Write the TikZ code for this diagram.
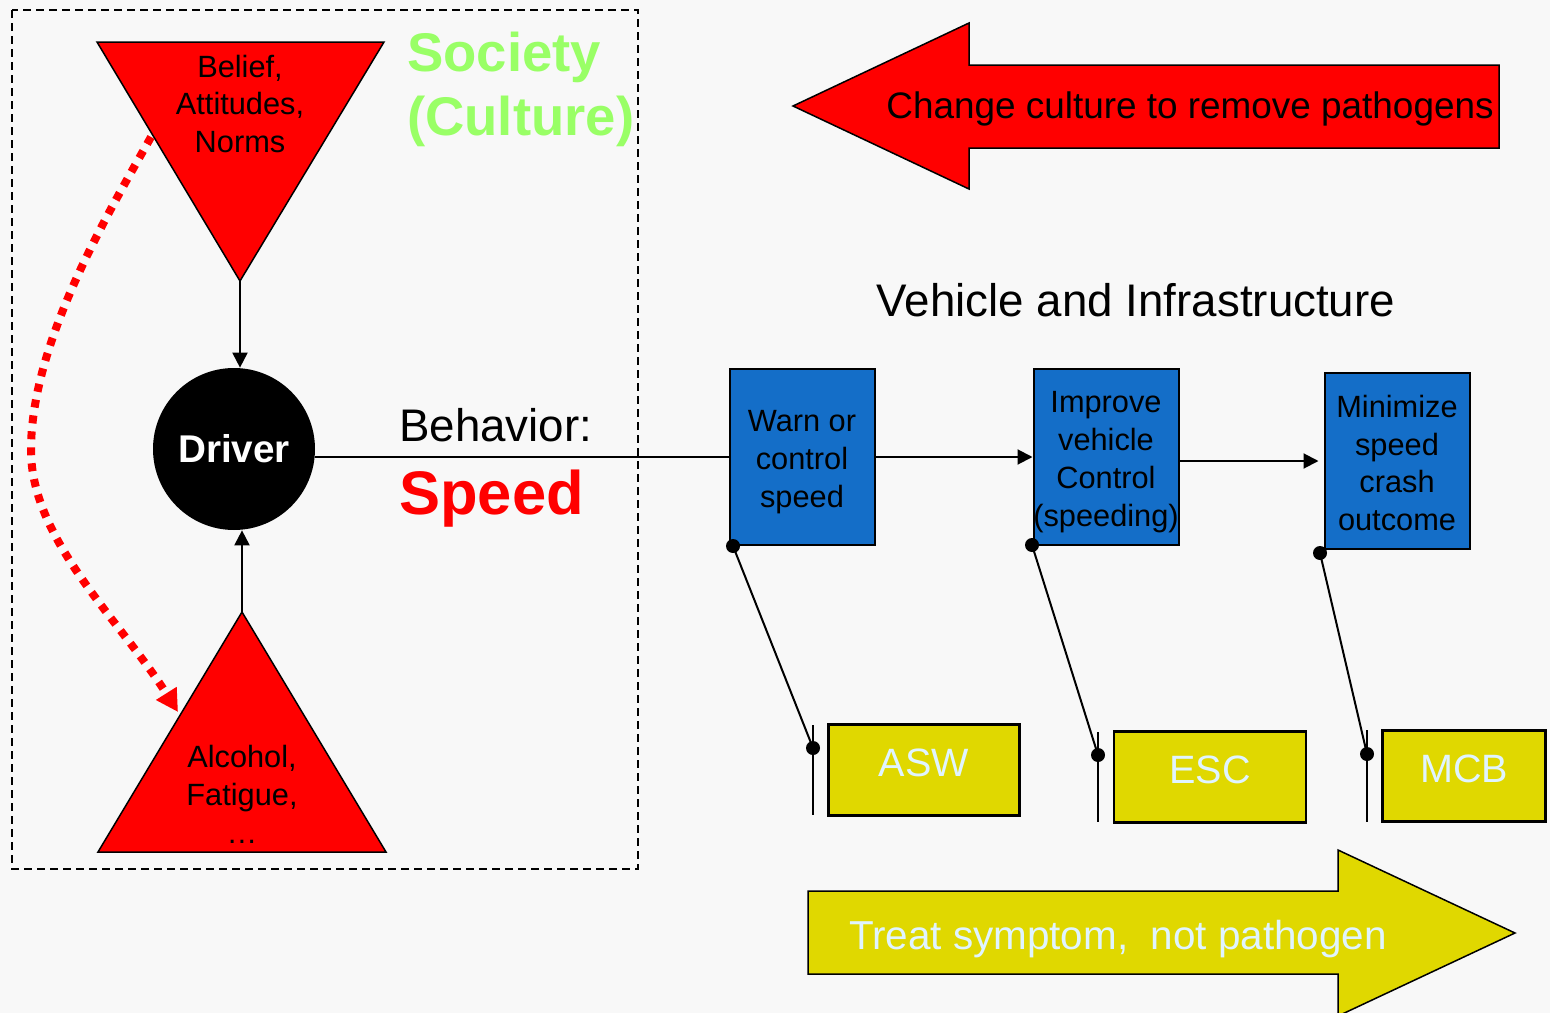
\documentclass[tikz,border=0pt]{standalone}
\usepackage{fontspec}
\setmainfont{Liberation Sans}
\usepackage{xcolor}
\usetikzlibrary{arrows.meta}
\definecolor{bgcol}{RGB}{248,248,248}
\definecolor{culturegreen}{RGB}{153,255,102}
\definecolor{boxblue}{RGB}{20,110,200}
\definecolor{boxyellow}{RGB}{224,216,0}
\definecolor{paletext}{RGB}{224,244,255}

\begin{document}
\begin{tikzpicture}[x=0.2mm, y=-0.2mm,
    small/.style={font=\fontsize{17.5}{21.6}\selectfont, align=center},
    bluebox/.style={draw, line width=0.4mm, fill=boxblue, minimum width=29mm, minimum height=35.2mm, inner sep=0pt},
    yellowbox/.style={draw, line width=0.45mm, fill=boxyellow, minimum height=18.2mm, text depth=3mm, text=paletext, font=\fontsize{22.5}{27}\selectfont},
    link/.style={line width=0.4mm, -{Triangle[length=3mm,width=3mm]}}]
    % Background
    \fill[bgcol] (0,0) rectangle (1550,1013);
    \useasboundingbox (0,0) rectangle (1550,1013);

    % Society box
    \draw[dash pattern=on 1.6mm off 1mm, line width=0.3mm] (12,10) rectangle (638,869);
    \node[anchor=west, align=left, text=culturegreen, font=\fontsize{31}{36.4}\selectfont\bfseries] (society) at (401,89) {Society\\(Culture)};

    % Triangles
    \draw[fill=red, line width=0.3mm] (97,42) -- (384,42) -- (240,281) coordinate (tritop) -- cycle;
    \node[small] (belief) at (240,104) {Belief,\\Attitudes,\\Norms};
    \draw[fill=red, line width=0.3mm] (98,852) -- (386,852) -- (242,612) coordinate (tribot) -- cycle;
    \node[small] (cause) at (242,794) {Alcohol,\\Fatigue,\\\dots};

    % Driver
    \node[circle, fill=black, minimum size=32.4mm, inner sep=0pt, text=white, font=\fontsize{22}{26}\selectfont\bfseries] (driver) at (234,449) {Driver};
    \draw[link] (tritop) -- (tritop |- driver.north);
    \draw[link] (tribot) -- (tribot |- driver.south);

    % Dotted influence
    \coordinate (curvestart) at (151,137);
    \coordinate (curveend) at (178,712);
    \draw[red, line width=1.6mm, dash pattern=on 1.6mm off 1.6mm, -{Triangle[length=4.4mm,width=4.6mm]}]
        (curvestart) .. controls (112,207) and (31,340) .. (31,450) .. controls (31,540) and (120,620) .. (curveend);

    % Behavior
    \node[anchor=west, font=\fontsize{26}{30}\selectfont] (behavior) at (393,425) {Behavior:};
    \node[anchor=west, text=red, font=\fontsize{35}{40}\selectfont\bfseries] (speed) at (393,499) {Speed};

    % Vehicle and infrastructure
    \node[font=\fontsize{26}{30}\selectfont] (vehicle) at (1136,300) {Vehicle and Infrastructure};
    \node[bluebox] (warn) at (802,457) {};
    \node[bluebox] (improve) at (1106,457) {};
    \node[bluebox] (minimize) at (1397,461) {};
    \node[small] (warntext) at (802,462) {Warn or\\control\\speed};
    \node[small] (improvetext) at (1106,462) {Improve\\vehicle\\Control\\(speeding)};
    \node[small] (minimizetext) at (1397,463) {Minimize\\speed\\crash\\outcome};
    \draw[line width=0.4mm] (driver.east |- warn.west) -- (warn.west);
    \draw[link] (warn.east) -- (improve.west);
    \draw[link] (improve.east |- minimize.west) -- ([xshift=-1mm]minimize.west);

    % Countermeasures
    \node[yellowbox, minimum width=38.2mm] (asw) at (924,770) {ASW};
    \node[yellowbox, minimum width=38.4mm] (esc) at (1210,777) {ESC};
    \node[yellowbox, minimum width=32.6mm] (mcb) at (1464,776) {MCB};
    \foreach \n/\xa/\ya/\xb/\yb/\ytop/\ybot in {1/733/546/813/748/725/815, 2/1032/545/1098/755/732/822, 3/1320/553/1367/754/730/822} {
        \coordinate (up\n) at (\xa,\ya);
        \coordinate (down\n) at (\xb,\yb);
        \draw[line width=0.4mm] (up\n) -- (down\n);
        \draw[line width=0.4mm] (\xb,\ytop) -- (\xb,\ybot);
        \fill (up\n) circle (1.4mm);
        \fill (down\n) circle (1.4mm);
    }

    % Big arrows
    \draw[fill=red, line width=0.3mm] (793,106) -- (969,23) -- (969,65) -- (1499,65) -- (1499,148) -- (969,148) -- (969,189) -- cycle;
    \node[font=\fontsize{21}{25}\selectfont] (change) at (1190,109) {Change culture to remove pathogens};
    \draw[fill=boxyellow, line width=0.3mm] (808,891) -- (1338,891) -- (1338,850) -- (1515,933) -- (1338,1016) -- (1338,974) -- (808,974) -- cycle;
    \node[text=paletext, font=\fontsize{23}{27}\selectfont] (treat) at (1118,939) {Treat symptom,~ not pathogen};
\end{tikzpicture}
\end{document}
